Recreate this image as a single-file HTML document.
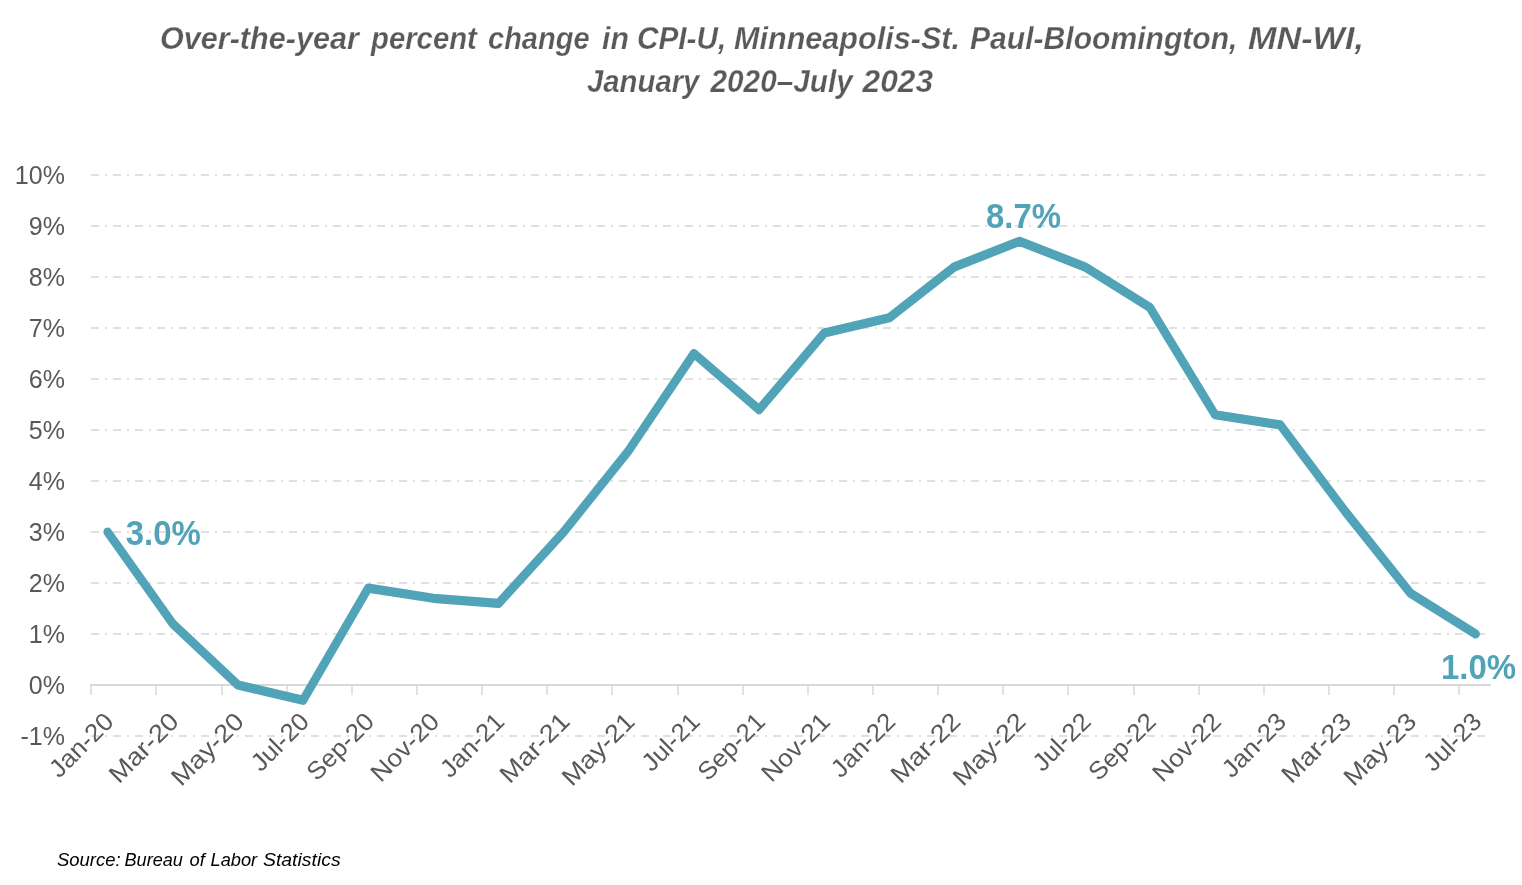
<!DOCTYPE html>
<html lang="en">
<head>
<meta charset="utf-8">
<title>Over-the-year percent change in CPI-U, Minneapolis-St. Paul-Bloomington, MN-WI</title>
<style>
html,body{margin:0;padding:0;background:#fff;}
body{width:1522px;height:885px;overflow:hidden;}
svg{display:block;}
text{font-family:"Liberation Sans",sans-serif;}
.t{font-weight:bold;font-style:italic;font-size:31px;fill:#595959;stroke:#fff;stroke-width:0.25px;}
.ax{font-size:25px;fill:#595959;}
.dl{font-weight:bold;font-size:34.3px;fill:#51A3B8;}
.src{font-style:italic;font-size:18.5px;fill:#000;}
</style>
</head>
<body>
<svg width="1522" height="885" viewBox="0 0 1522 885">
<rect width="1522" height="885" fill="#fff"/>
<g class="t">
<text y="49"><tspan x="160.00" textLength="198.80" lengthAdjust="spacingAndGlyphs">Over-the-year</tspan> <tspan x="371.00" textLength="105.84" lengthAdjust="spacingAndGlyphs">percent</tspan> <tspan x="488.00" textLength="101.62" lengthAdjust="spacingAndGlyphs">change</tspan> <tspan x="602.00" textLength="26.93" lengthAdjust="spacingAndGlyphs">in</tspan> <tspan x="637.00" textLength="89.15" lengthAdjust="spacingAndGlyphs">CPI-U,</tspan> <tspan x="734.00" textLength="226.03" lengthAdjust="spacingAndGlyphs">Minneapolis-St.</tspan> <tspan x="970.00" textLength="267.43" lengthAdjust="spacingAndGlyphs">Paul-Bloomington,</tspan> <tspan x="1248.00" textLength="115.91" lengthAdjust="spacingAndGlyphs">MN-WI,</tspan></text>
<text y="92"><tspan x="587.00" textLength="112.42" lengthAdjust="spacingAndGlyphs">January</tspan> <tspan x="710.50" textLength="142.23" lengthAdjust="spacingAndGlyphs">2020–July</tspan> <tspan x="862.50" textLength="70.61" lengthAdjust="spacingAndGlyphs">2023</tspan></text>
</g>
<g stroke="#E0E0E0" stroke-width="2" stroke-dasharray="8 6 2 6" fill="none">
<line x1="91" y1="175.00" x2="1490" y2="175.00"/>
<line x1="91" y1="226.00" x2="1490" y2="226.00"/>
<line x1="91" y1="277.00" x2="1490" y2="277.00"/>
<line x1="91" y1="328.00" x2="1490" y2="328.00"/>
<line x1="91" y1="379.00" x2="1490" y2="379.00"/>
<line x1="91" y1="430.00" x2="1490" y2="430.00"/>
<line x1="91" y1="481.00" x2="1490" y2="481.00"/>
<line x1="91" y1="532.00" x2="1490" y2="532.00"/>
<line x1="91" y1="583.00" x2="1490" y2="583.00"/>
<line x1="91" y1="634.00" x2="1490" y2="634.00"/>
<line x1="91" y1="736.00" x2="1490" y2="736.00"/>
</g>
<g stroke="#E2E2E2" stroke-width="2" fill="none">
<line x1="91" y1="685" x2="91" y2="695"/>
<line x1="156" y1="685" x2="156" y2="695"/>
<line x1="222" y1="685" x2="222" y2="695"/>
<line x1="287" y1="685" x2="287" y2="695"/>
<line x1="352" y1="685" x2="352" y2="695"/>
<line x1="417" y1="685" x2="417" y2="695"/>
<line x1="482" y1="685" x2="482" y2="695"/>
<line x1="547" y1="685" x2="547" y2="695"/>
<line x1="612" y1="685" x2="612" y2="695"/>
<line x1="678" y1="685" x2="678" y2="695"/>
<line x1="743" y1="685" x2="743" y2="695"/>
<line x1="808" y1="685" x2="808" y2="695"/>
<line x1="873" y1="685" x2="873" y2="695"/>
<line x1="938" y1="685" x2="938" y2="695"/>
<line x1="1003" y1="685" x2="1003" y2="695"/>
<line x1="1068" y1="685" x2="1068" y2="695"/>
<line x1="1134" y1="685" x2="1134" y2="695"/>
<line x1="1199" y1="685" x2="1199" y2="695"/>
<line x1="1264" y1="685" x2="1264" y2="695"/>
<line x1="1329" y1="685" x2="1329" y2="695"/>
<line x1="1394" y1="685" x2="1394" y2="695"/>
<line x1="1459" y1="685" x2="1459" y2="695"/>
</g>
<line x1="90" y1="685" x2="1491" y2="685" stroke="#D9D9D9" stroke-width="2" fill="none"/>
<g class="ax" text-anchor="end">
<text x="64.9" y="184.30">10%</text>
<text x="64.9" y="235.30">9%</text>
<text x="64.9" y="286.30">8%</text>
<text x="64.9" y="337.30">7%</text>
<text x="64.9" y="388.30">6%</text>
<text x="64.9" y="439.30">5%</text>
<text x="64.9" y="490.30">4%</text>
<text x="64.9" y="541.30">3%</text>
<text x="64.9" y="592.30">2%</text>
<text x="64.9" y="643.30">1%</text>
<text x="64.9" y="694.30">0%</text>
<text x="64.9" y="745.30">-1%</text>
</g>
<g class="ax" text-anchor="end">
<text transform="translate(115.14 723.10) rotate(-45)" textLength="78.9" lengthAdjust="spacingAndGlyphs">Jan-20</text>
<text transform="translate(180.28 723.10) rotate(-45)" textLength="86.7" lengthAdjust="spacingAndGlyphs">Mar-20</text>
<text transform="translate(245.42 723.10) rotate(-45)" textLength="90.8" lengthAdjust="spacingAndGlyphs">May-20</text>
<text transform="translate(310.56 723.10) rotate(-45)" textLength="70.2" lengthAdjust="spacingAndGlyphs">Jul-20</text>
<text transform="translate(375.71 723.10) rotate(-45)" textLength="83.3" lengthAdjust="spacingAndGlyphs">Sep-20</text>
<text transform="translate(440.85 723.10) rotate(-45)" textLength="85.0" lengthAdjust="spacingAndGlyphs">Nov-20</text>
<text transform="translate(505.99 723.10) rotate(-45)" textLength="78.9" lengthAdjust="spacingAndGlyphs">Jan-21</text>
<text transform="translate(571.14 723.10) rotate(-45)" textLength="86.7" lengthAdjust="spacingAndGlyphs">Mar-21</text>
<text transform="translate(636.28 723.10) rotate(-45)" textLength="90.8" lengthAdjust="spacingAndGlyphs">May-21</text>
<text transform="translate(701.42 723.10) rotate(-45)" textLength="70.2" lengthAdjust="spacingAndGlyphs">Jul-21</text>
<text transform="translate(766.56 723.10) rotate(-45)" textLength="83.3" lengthAdjust="spacingAndGlyphs">Sep-21</text>
<text transform="translate(831.71 723.10) rotate(-45)" textLength="85.0" lengthAdjust="spacingAndGlyphs">Nov-21</text>
<text transform="translate(896.85 723.10) rotate(-45)" textLength="78.9" lengthAdjust="spacingAndGlyphs">Jan-22</text>
<text transform="translate(961.99 723.10) rotate(-45)" textLength="86.7" lengthAdjust="spacingAndGlyphs">Mar-22</text>
<text transform="translate(1027.14 723.10) rotate(-45)" textLength="90.8" lengthAdjust="spacingAndGlyphs">May-22</text>
<text transform="translate(1092.28 723.10) rotate(-45)" textLength="70.2" lengthAdjust="spacingAndGlyphs">Jul-22</text>
<text transform="translate(1157.42 723.10) rotate(-45)" textLength="83.3" lengthAdjust="spacingAndGlyphs">Sep-22</text>
<text transform="translate(1222.56 723.10) rotate(-45)" textLength="85.0" lengthAdjust="spacingAndGlyphs">Nov-22</text>
<text transform="translate(1287.71 723.10) rotate(-45)" textLength="78.9" lengthAdjust="spacingAndGlyphs">Jan-23</text>
<text transform="translate(1352.85 723.10) rotate(-45)" textLength="86.7" lengthAdjust="spacingAndGlyphs">Mar-23</text>
<text transform="translate(1417.99 723.10) rotate(-45)" textLength="90.8" lengthAdjust="spacingAndGlyphs">May-23</text>
<text transform="translate(1483.14 723.10) rotate(-45)" textLength="70.2" lengthAdjust="spacingAndGlyphs">Jul-23</text>
</g>
<polyline transform="scale(1 1.09)" points="107.64,488.07 172.78,572.29 237.92,628.44 303.06,642.48 368.21,539.54 433.35,548.90 498.49,553.58 563.64,488.07 628.78,413.21 693.92,324.31 759.06,375.78 824.21,305.60 889.35,291.56 954.49,244.77 1019.64,221.38 1084.78,244.77 1149.92,282.20 1215.06,380.46 1280.21,389.82 1345.35,469.36 1410.49,544.22 1475.64,581.65" fill="none" stroke="#51A3B8" stroke-width="8.45" stroke-linecap="round" stroke-linejoin="round"/>
<g class="dl">
<text x="125.8" y="545.4" style="font-size:35.8px" textLength="75" lengthAdjust="spacingAndGlyphs">3.0%</text>
<text x="986" y="227.8" textLength="75" lengthAdjust="spacingAndGlyphs">8.7%</text>
<text x="1441" y="678.7" textLength="75" lengthAdjust="spacingAndGlyphs">1.0%</text>
</g>
<text class="src" y="865.7"><tspan x="57.00" textLength="63.64" lengthAdjust="spacingAndGlyphs">Source:</tspan> <tspan x="124.50" textLength="58.40" lengthAdjust="spacingAndGlyphs">Bureau</tspan> <tspan x="189.50" textLength="15.32" lengthAdjust="spacingAndGlyphs">of</tspan> <tspan x="210.50" textLength="46.62" lengthAdjust="spacingAndGlyphs">Labor</tspan> <tspan x="263.00" textLength="77.63" lengthAdjust="spacingAndGlyphs">Statistics</tspan></text>
</svg>
</body>
</html>
